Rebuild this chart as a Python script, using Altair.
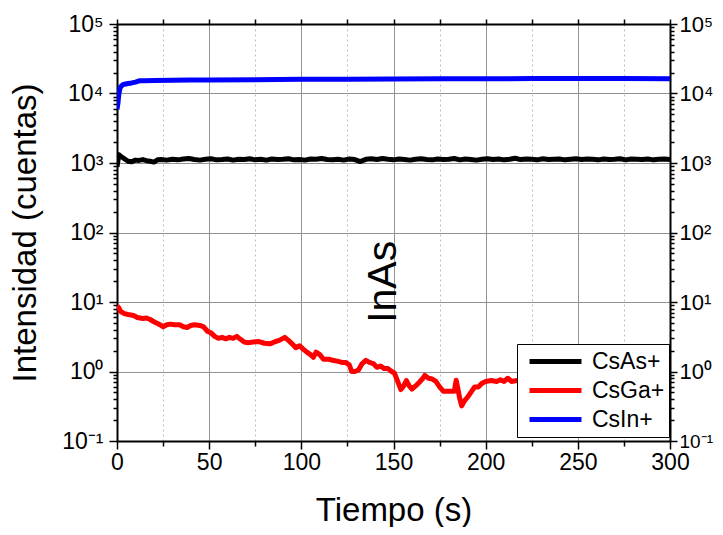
import altair as alt
import pandas as pd

FONT = "Liberation Sans, Arial, sans-serif"

series = ["CsAs+", "CsGa+", "CsIn+"]
colors = ["#000000", "#ff0000", "#0000ff"]

blue_t = [0, 0.5, 1, 1.5, 2, 3, 4, 6, 8, 10, 12, 15, 20, 30, 40, 50, 75, 100,
          125, 150, 175, 200, 225, 250, 275, 300]
blue_v = [5900, 7200, 9800, 11500, 12500, 13300, 13600, 13900, 14200, 14600,
          15200, 15300, 15400, 15500, 15600, 15700, 15800, 16000, 16100, 16200,
          16300, 16300, 16400, 16400, 16400, 16300]

black_t = [0, 1, 2, 4, 6, 8, 10, 12, 14, 16, 18, 20, 22, 24, 27, 30, 33, 36, 39,
           42, 45, 48, 51, 54, 57, 60, 63, 66, 69, 72, 75, 78, 81, 84, 87, 90,
           93, 96, 99, 102, 105, 108, 111, 114, 117, 120, 123, 126, 129, 132,
           135, 138, 141, 144, 147, 150, 153, 156, 159, 162, 165, 168, 171, 174,
           177, 180, 183, 186, 189, 192, 195, 198, 201, 204, 207, 210, 213, 216,
           219, 222, 225, 228, 231, 234, 237, 240, 243, 246, 249, 252, 255, 258,
           261, 264, 267, 270, 273, 276, 279, 282, 285, 288, 291, 294, 297, 300]
black_v = [880, 1320, 1250, 1150, 1060, 1040, 1100, 1090, 1120, 1080, 1060, 1030,
           1110, 1120, 1100, 1130, 1110, 1140, 1160, 1120, 1100, 1130, 1150, 1110,
           1120, 1140, 1100, 1130, 1120, 1150, 1110, 1130, 1100, 1140, 1120, 1130,
           1150, 1110, 1120, 1100, 1140, 1130, 1160, 1120, 1110, 1130, 1100, 1140,
           1120, 1050, 1130, 1150, 1120, 1160, 1130, 1110, 1140, 1120, 1100, 1130,
           1150, 1120, 1110, 1140, 1120, 1130, 1160, 1110, 1140, 1120, 1100, 1130,
           1150, 1120, 1140, 1110, 1130, 1170, 1120, 1140, 1130, 1110, 1150, 1120,
           1130, 1140, 1110, 1130, 1150, 1120, 1140, 1130, 1110, 1140, 1120, 1130,
           1150, 1110, 1140, 1130, 1120, 1140, 1110, 1130, 1140, 1120]

red_t = [0, 1, 2, 4, 6, 9, 11, 14, 16, 18, 20, 22, 24, 25, 27, 29, 31, 34, 36,
         38, 40, 42, 45, 47, 49, 51, 53, 55, 57, 59, 61, 63, 65, 67, 69, 71, 74,
         77, 80, 83, 86, 88, 91, 93, 95, 97, 99, 101, 103, 105, 106.5, 108, 110,
         112, 115, 117, 120, 122, 124, 126, 127.3, 129, 131, 133, 135, 137, 139,
         141, 143, 145, 147, 149, 150.5, 152, 154, 155.5, 157, 158.5, 160, 162,
         164, 166, 167, 169, 171, 173, 175, 177, 180, 183, 184, 185, 186, 187,
         188.5, 190, 192, 194, 196, 198, 200, 203, 206, 208, 210, 212, 214, 217,
         220, 225, 230, 235, 240, 245, 250, 255, 260, 265, 270, 275, 280, 285,
         290, 294, 296, 297, 298, 299, 300]
red_v = [8.8, 8.2, 7.3, 6.8, 6.6, 6.4, 6.0, 5.8, 5.9, 5.6, 5.2, 4.9, 4.6, 4.4,
         4.7, 4.8, 4.7, 4.7, 4.4, 4.3, 4.6, 4.7, 4.6, 4.4, 3.8, 3.6, 3.2, 3.0,
         3.1, 2.95, 3.1, 3.0, 3.2, 2.9, 2.65, 2.6, 2.65, 2.7, 2.55, 2.5, 2.7, 2.8,
         3.1, 2.8, 2.5, 2.2, 2.35, 2.1, 1.9, 1.75, 1.6, 1.9, 1.75, 1.5, 1.5, 1.45,
         1.4, 1.35, 1.35, 1.25, 1.0, 1.0, 1.05, 1.3, 1.45, 1.35, 1.3, 1.15, 1.2,
         1.1, 1.1, 1.0, 0.95, 0.75, 0.55, 0.62, 0.74, 0.62, 0.56, 0.62, 0.7, 0.8,
         0.88, 0.8, 0.78, 0.72, 0.6, 0.52, 0.52, 0.52, 0.75, 0.55, 0.4, 0.32, 0.38,
         0.42, 0.5, 0.6, 0.6, 0.68, 0.72, 0.74, 0.72, 0.76, 0.72, 0.8, 0.72, 0.74,
         0.7, 0.72, 0.66, 0.7, 0.64, 0.68, 0.62, 0.66, 0.6, 0.64, 0.58, 0.62, 0.56,
         0.6, 0.55, 0.58, 0.55, 0.45, 0.6, 0.4, 0.55]

label_t = [145]
label_v = [19.5]
label_txt = ["InAs"]

x_ticks = list(range(0, 301, 25))
y_ticks = [m * 10 ** e for e in range(-1, 5) for m in range(1, 10)] + [100000]

rows = []
for name, ts, vs in [("CsAs+", black_t, black_v), ("CsGa+", red_t, red_v),
                     ("CsIn+", blue_t, blue_v)]:
    for t, v in zip(ts, vs):
        rows.append({"t": t, "v": v, "s": name})
df = pd.DataFrame(rows)

xs = alt.Scale(domain=[0, 300], nice=False, zero=False)
ys = alt.Scale(type="log", domain=[0.1, 100000], nice=False)

decade = "abs(log(datum.value)/LN10 - round(log(datum.value)/LN10)) < 0.01"
sup = ("['\u207b\u00b9','\u2070','\u00b9','\u00b2','\u00b3','\u2074','\u2075']"
       "[round(log(datum.value)/LN10)+1]")
ylabel = f"({decade}) ? '10' + {sup} : ''"
xmajor = "datum.value % 50 == 0"

common = dict(domainColor="black", domainWidth=2, tickColor="black", tickWidth=1.5,
              labelFont=FONT, labelColor="black",
              titleFont=FONT, titleFontSize=33, titleFontWeight="normal",
              titleColor="black", labelOverlap=False, labelFlush=False,
              labelBound=False)

x_bottom = alt.Axis(orient="bottom", title="Tiempo (s)", values=x_ticks,
                    labelExpr=f"{xmajor} ? datum.label : ''", labelFontSize=23,
                    tickSize={"condition": {"test": xmajor, "value": 8}, "value": 5},
                    labelPadding=2, titlePadding=20,
                    grid=True,
                    gridColor={"condition": {"test": xmajor, "value": "#939393"},
                               "value": "#bdbdbd"},
                    gridDash={"condition": {"test": xmajor, "value": []},
                              "value": [2, 3]},
                    gridWidth=1, **common)
y_left = alt.Axis(orient="left", title="Intensidad (cuentas)", values=y_ticks,
                  labelExpr=ylabel, labelFontSize=23,
                  tickSize={"condition": {"test": decade, "value": 8}, "value": 4},
                  labelPadding=6, titlePadding=19,
                  grid=True,
                  gridOpacity={"condition": {"test": decade, "value": 1}, "value": 0},
                  gridColor="#939393", gridWidth=1, **common)
x_top = alt.Axis(orient="top", title=None, values=x_ticks, labels=False,
                 tickSize=5, grid=False, **common)
y_right = alt.Axis(orient="right", title=None, values=y_ticks, labelExpr=ylabel,
                   labelFontSize={"condition": {"test": "datum.value < 0.5",
                                                "value": 19}, "value": 22},
                   tickSize={"condition": {"test": decade, "value": 7}, "value": 4},
                   labelPadding=2, grid=False, **common)

lines = alt.Chart(df).mark_line(strokeWidth=5, strokeJoin="round", clip=True).encode(
    x=alt.X("t:Q", scale=xs, axis=x_bottom),
    y=alt.Y("v:Q", scale=ys, axis=y_left),
    color=alt.Color("s:N", scale=alt.Scale(domain=series, range=colors),
                    legend=alt.Legend(title=None, orient="none", legendX=400,
                                      legendY=320, symbolType="stroke",
                                      symbolSize=2700, symbolStrokeWidth=5,
                                      symbolOffset=6, clipHeight=27,
                                      rowPadding=2, padding=4, labelOffset=8,
                                      labelFont=FONT, labelFontSize=23,
                                      labelColor="black", fillColor="white",
                                      strokeColor="black")),
)

mirror = alt.Chart(df).mark_line(strokeOpacity=0).encode(
    x=alt.X("t:Q", scale=xs, axis=x_top),
    y=alt.Y("v:Q", scale=ys, axis=y_right),
    detail="s:N",
)

label_df = pd.DataFrame({"t": label_t, "v": label_v, "txt": label_txt})
label = alt.Chart(label_df).mark_text(angle=270, font=FONT, fontSize=41,
                                      color="black", align="center",
                                      baseline="middle").encode(
    x=alt.X("t:Q", scale=xs, axis=None),
    y=alt.Y("v:Q", scale=ys, axis=None),
    text="txt:N",
)

chart = alt.layer(lines, label, mirror).resolve_axis(
    x="independent", y="independent"
).properties(
    width=553, height=417,
    autosize=alt.AutoSizeParams(type="none"),
    padding={"left": 109, "top": 16, "right": 45, "bottom": 86},
).configure_view(fill="#d4e7fb", stroke=None).configure(background="white")

chart.save("out.html", embed_options={"renderer": "svg", "actions": False})
